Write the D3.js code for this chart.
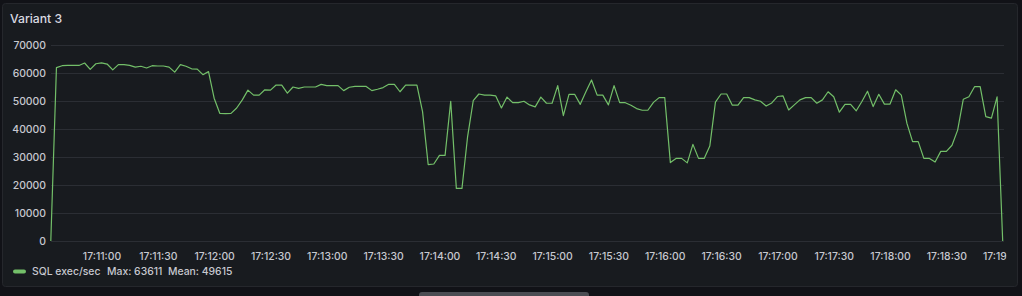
<!DOCTYPE html>
<html>
<head>
<meta charset="utf-8">
<script src="https://cdn.jsdelivr.net/npm/d3@7"></script>
<style>
  html, body { margin: 0; padding: 0; background: #111217; }
  svg { display: block; font-family: Inter, "Open Sans", sans-serif; }
</style>
</head>
<body>
<div id="chart"></div>
<script>
var svgWidth = 1022;
var svgHeight = 296;

// samples every 3 seconds, starting 17:10:33
var startTime = "2024-01-01T17:10:33";
var stepSeconds = 3;
var sqlExec = [
  0, 61900, 62600, 62700, 62700, 62700, 63570, 61300, 63300, 63611,
  63200, 61100, 63000, 63000, 62700, 62100, 62400, 61800, 62600, 62500,
  62500, 62100, 60300, 63000, 62400, 61500, 61400, 59400, 60500, 51000,
  45600, 45500, 45600, 47500, 50400, 53900, 52100, 52100, 54000, 53900,
  55700, 55700, 52800, 55000, 54500, 55000, 55000, 55000, 55950, 55500,
  55500, 55500, 53700, 54900, 55200, 55200, 55200, 53700, 54200, 54800,
  55950, 55950, 53300, 55700, 55700, 55700, 46200, 27300, 27500, 30600,
  30600, 49900, 18800, 18800, 37300, 50100, 52500, 52100, 52100, 51800,
  47500, 51400, 49400, 49400, 49900, 48600, 47900, 51400, 49200, 49200,
  55500, 44800, 52400, 52400, 48800, 53300, 57500, 52100, 52100, 48600,
  55500, 49400, 49400, 48500, 47300, 46700, 46700, 49500, 51200, 51200,
  28000, 29500, 29500, 27900, 34500, 29500, 29500, 33900, 49600, 52500,
  52500, 48500, 48500, 51200, 51200, 50400, 49900, 48200, 49300, 51600,
  51800, 46800, 48600, 50400, 51200, 51200, 49200, 50400, 53300, 51500,
  46000, 48800, 48800, 46500, 49800, 53500, 48000, 52400, 48900, 48900,
  54000, 52100, 42000, 35500, 35500, 29500, 29500, 28200, 32000, 32000,
  34200, 39600, 50600, 51500, 55100, 55100, 44400, 43900, 51500, 0
];
var yTicks = [0, 10000, 20000, 30000, 40000, 50000, 60000, 70000];
var xTickLabels = ["17:11:00", "17:11:30", "17:12:00", "17:12:30", "17:13:00",
  "17:13:30", "17:14:00", "17:14:30", "17:15:00", "17:15:30", "17:16:00",
  "17:16:30", "17:17:00", "17:17:30", "17:18:00", "17:18:30", "17:19:00"];
var seriesName = "SQL exec/sec";
var legendStats = ["Max: 63611", "Mean: 49615"];

var t0 = new Date(startTime);
var data = sqlExec.map(function (v, i) {
  return { time: new Date(t0.getTime() + i * stepSeconds * 1000), value: v };
});
var parseTick = function (s) { return new Date("2024-01-01T" + s); };

var plot = { left: 51, right: 1004, top: 45, bottom: 241 };
var textColor = "#c7c8cf";

var svg = d3.select("#chart")
  .append("svg")
  .attr("width", svgWidth)
  .attr("height", svgHeight);

// panel
svg.append("rect")
  .attr("x", 2.5).attr("y", 3.5)
  .attr("width", 1015).attr("height", 283)
  .attr("rx", 3)
  .attr("fill", "#181b1f")
  .attr("stroke", "#25272c");

svg.append("text")
  .attr("x", 10).attr("y", 23)
  .attr("fill", "#d8d9e0")
  .attr("font-size", 12.2)
  .attr("font-weight", 500)
  .text("Variant 3");

var xScale = d3.scaleTime()
  .domain([data[0].time, data[data.length - 1].time])
  .range([50.8, 1002.7]);

var yScale = d3.scaleLinear()
  .domain([0, 70000])
  .range([plot.bottom, plot.top]);

svg.append("clipPath").attr("id", "axisClip")
  .append("rect")
  .attr("x", 0).attr("y", 0)
  .attr("width", 1006.5).attr("height", svgHeight);

// grid
var xAxis = d3.axisBottom(xScale)
  .tickValues(xTickLabels.map(parseTick))
  .tickFormat(d3.timeFormat("%H:%M:%S"))
  .tickSize(-(plot.bottom - plot.top))
  .tickPadding(8);

var yAxis = d3.axisLeft(yScale)
  .tickValues(yTicks)
  .tickFormat(d3.format("d"))
  .tickSize(-(plot.right - plot.left))
  .tickPadding(5);

var gx = svg.append("g")
  .attr("transform", `translate(0, ${plot.bottom})`)
  .attr("clip-path", "url(#axisClip)")
  .call(xAxis);

var gy = svg.append("g")
  .attr("transform", `translate(${plot.left}, 0)`)
  .call(yAxis);

[gx, gy].forEach(function (g) {
  g.select(".domain").remove();
  g.selectAll(".tick line").attr("stroke", "#2b2e34").attr("stroke-width", 1);
  g.selectAll(".tick text")
    .attr("fill", textColor)
    .attr("font-size", 10.4)
    .attr("font-weight", 500)
    .attr("font-family", "Inter, sans-serif");
});
gx.selectAll(".tick text").attr("dy", "1.05em");

var line = d3.line()
  .x(function (d) { return xScale(d.time); })
  .y(function (d) { return yScale(d.value); });

svg.append("path")
  .datum(data)
  .attr("fill", "none")
  .attr("stroke", "#73bf69")
  .attr("stroke-width", 1.2)
  .attr("stroke-linejoin", "round")
  .attr("d", line);

// legend
svg.append("rect")
  .attr("x", 13).attr("y", 269.5)
  .attr("width", 13).attr("height", 4)
  .attr("rx", 2)
  .attr("fill", "#73bf69");

var legendX = [32, 107, 168];
[seriesName].concat(legendStats).forEach(function (s, i) {
  svg.append("text")
    .attr("x", legendX[i]).attr("y", 275)
    .attr("fill", textColor)
    .attr("font-size", 10.4)
    .attr("font-weight", 500)
    .text(s);
});

// scrollbar thumb at bottom
svg.append("rect")
  .attr("x", 419).attr("y", 292)
  .attr("width", 170).attr("height", 6)
  .attr("rx", 3)
  .attr("fill", "#4b4d53");
</script>
</body>
</html>
